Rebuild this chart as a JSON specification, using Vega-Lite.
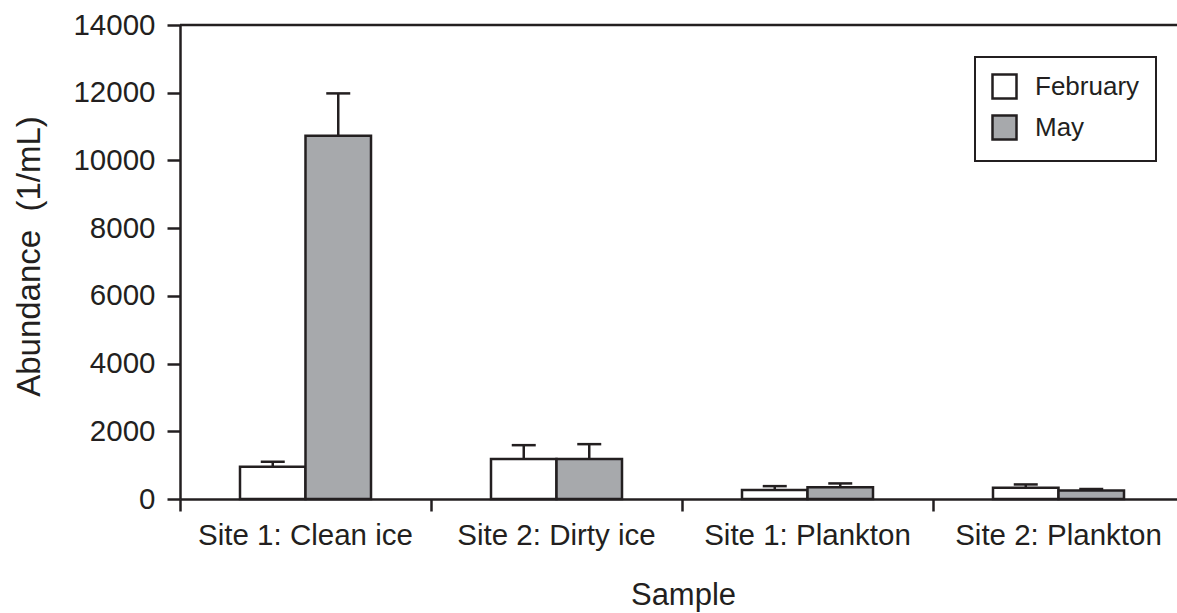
{
  "$schema": "https://vega.github.io/schema/vega-lite/v6.json",
  "width": 997,
  "height": 474,
  "autosize": {"type": "none"},
  "padding": {"left": 180, "top": 25, "right": 0, "bottom": 114},
  "background": "white",
  "config": {
    "font": "Liberation Sans",
    "view": {"stroke": null},
    "axis": {
      "domainColor": "#231f20",
      "domainWidth": 2.5,
      "tickColor": "#231f20",
      "tickWidth": 2.5,
      "labelColor": "#231f20",
      "labelFontSize": 29.5,
      "titleColor": "#231f20",
      "titleFontSize": 31,
      "titleFontWeight": "normal",
      "grid": false,
      "labelLimit": 0,
      "titleLimit": 0
    }
  },
  "datasets": {
    "abundance": [
      {"sample": "Site 1: Clean ice", "month": "February", "mean": 955, "upper": 1100},
      {"sample": "Site 1: Clean ice", "month": "May", "mean": 10730, "upper": 11980},
      {"sample": "Site 2: Dirty ice", "month": "February", "mean": 1180, "upper": 1590},
      {"sample": "Site 2: Dirty ice", "month": "May", "mean": 1180, "upper": 1620},
      {"sample": "Site 1: Plankton", "month": "February", "mean": 265, "upper": 380},
      {"sample": "Site 1: Plankton", "month": "May", "mean": 350, "upper": 460},
      {"sample": "Site 2: Plankton", "month": "February", "mean": 335, "upper": 430},
      {"sample": "Site 2: Plankton", "month": "May", "mean": 250, "upper": 295}
    ],
    "frame": [{"top": 14000}]
  },
  "resolve": {"axis": {"x": "independent", "y": "independent"}},
  "layer": [
    {
      "data": {"name": "abundance"},
      "mark": {"type": "rule", "strokeWidth": 2.5, "color": "#231f20"},
      "encoding": {
        "x": {"field": "sample", "type": "nominal", "sort": ["Site 1: Clean ice", "Site 2: Dirty ice", "Site 1: Plankton", "Site 2: Plankton"], "scale": {"range": [0, 1004], "paddingInner": 0, "paddingOuter": 0}, "axis": null},
        "xOffset": {"field": "month", "type": "nominal", "sort": ["February", "May"], "scale": {"paddingInner": 0, "paddingOuter": 0.916}},
        "y": {"field": "mean", "type": "quantitative", "scale": {"domain": [0, 14000], "nice": false}, "axis": null},
        "y2": {"field": "upper"}
      }
    },
    {
      "data": {"name": "abundance"},
      "mark": {"type": "tick", "thickness": 2.5, "size": 24, "color": "#231f20", "opacity": 1},
      "encoding": {
        "x": {"field": "sample", "type": "nominal", "sort": ["Site 1: Clean ice", "Site 2: Dirty ice", "Site 1: Plankton", "Site 2: Plankton"], "axis": null},
        "xOffset": {"field": "month", "type": "nominal", "sort": ["February", "May"]},
        "y": {"field": "upper", "type": "quantitative", "axis": null}
      }
    },
    {
      "data": {"name": "abundance"},
      "mark": {"type": "bar", "stroke": "#231f20", "strokeWidth": 2.5, "opacity": 1},
      "encoding": {
        "x": {
          "field": "sample", "type": "nominal",
          "sort": ["Site 1: Clean ice", "Site 2: Dirty ice", "Site 1: Plankton", "Site 2: Plankton"],
          "axis": {
            "title": "Sample",
            "labelAngle": 0,
            "bandPosition": 0,
            "tickSize": 12,
            "labelBaseline": "alphabetic",
            "labelPadding": 33,
            "labelOverlap": false,
            "labelFlush": false,
            "titleX": 503,
            "titleY": 105,
            "titleBaseline": "alphabetic",
            "titleAlign": "center"
          }
        },
        "xOffset": {"field": "month", "type": "nominal", "sort": ["February", "May"]},
        "y": {
          "field": "mean", "type": "quantitative",
          "axis": {
            "title": "Abundance\u00a0 (1/mL)",
            "values": [0, 2000, 4000, 6000, 8000, 10000, 12000, 14000],
            "format": "d",
            "tickSize": 13,
            "labelPadding": 12,
            "titleFontSize": 33,
            "titleX": -141,
            "titleY": 231,
            "titleAngle": 270,
            "titleBaseline": "alphabetic",
            "titleAlign": "center"
          }
        },
        "fill": {
          "field": "month", "type": "nominal",
          "scale": {"domain": ["February", "May"], "range": ["#ffffff", "#a7a9ac"]},
          "legend": {
            "title": null,
            "orient": "none",
            "legendX": 795,
            "legendY": 32,
            "padding": 16,
            "strokeColor": "#231f20",
            "symbolType": "square",
            "symbolSize": 576,
            "symbolStrokeWidth": 2.5,
            "symbolStrokeColor": "#231f20",
            "symbolOpacity": 1,
            "labelFontSize": 26,
            "labelColor": "#231f20",
            "labelOffset": 17,
            "rowPadding": 6,
            "labelLimit": 0,
            "encode": {"legend": {"update": {"strokeWidth": {"value": 2}}}}
          }
        }
      }
    },
    {
      "data": {"name": "frame"},
      "mark": {"type": "rule", "strokeWidth": 2.5, "color": "#231f20"},
      "encoding": {
        "y": {"field": "top", "type": "quantitative", "axis": null}
      }
    }
  ]
}
